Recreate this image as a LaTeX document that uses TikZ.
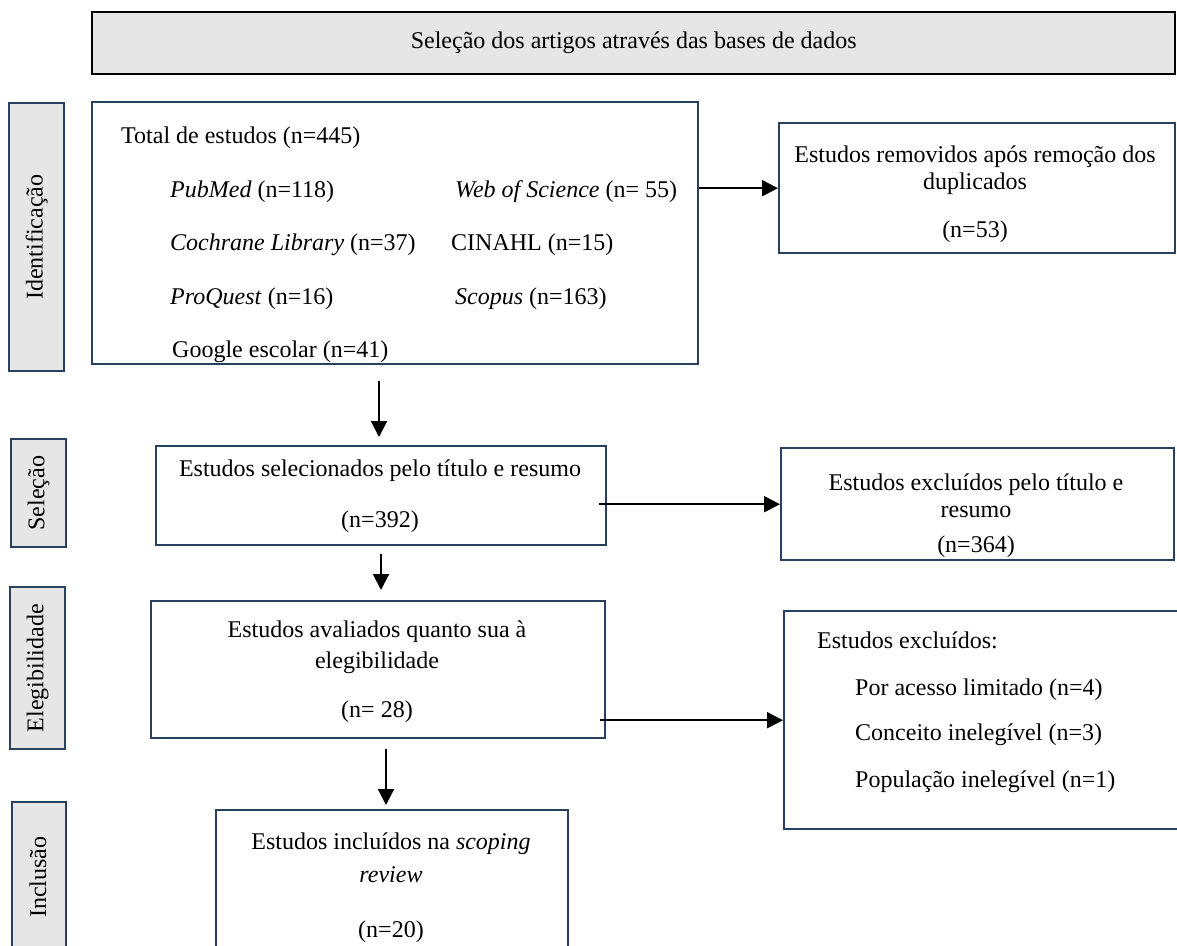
\documentclass[tikz,border=0pt]{standalone}
\usepackage{fontspec}
\setmainfont{Liberation Serif}
\usetikzlibrary{arrows.meta}
\definecolor{bordblue}{RGB}{41,65,94}
\definecolor{lgray}{RGB}{230,230,230}
\begin{document}
\begin{tikzpicture}[x=1pt,y=-1pt,
  box/.style={draw=bordblue, line width=2.4pt, fill=white, inner sep=0pt, anchor=north west},
  lab/.style={draw=bordblue, line width=2.4pt, fill=lgray, inner sep=0pt, anchor=north west},
  hdr/.style={draw=black, line width=2.4pt, fill=lgray, inner sep=0pt, anchor=north west, font=\fontsize{24}{28}\selectfont},
  txt/.style={inner sep=0pt, anchor=base, font=\fontsize{24}{28}\selectfont},
  txtw/.style={inner sep=0pt, anchor=base west, font=\fontsize{24}{28}\selectfont},
  rot/.style={inner sep=0pt, rotate=90, font=\fontsize{24}{28}\selectfont},
  arr/.style={line width=2pt, -{Triangle[length=16pt,width=16pt]}}]
\useasboundingbox (0,0) rectangle (1177,945);
\clip (0,0) rectangle (1177,945);
% header
\node[hdr, minimum width=1083, minimum height=62] (h) at (91,11) {Seleção dos artigos através das bases de dados};
% left labels
\node[lab, minimum width=55, minimum height=268] (l1) at (8,102) {};
\node[rot] (l1t) at (l1.center) {Identificação};
\node[lab, minimum width=55, minimum height=108] (l2) at (10,438) {};
\node[rot] (l2t) at (l2.center) {Seleção};
\node[lab, minimum width=55, minimum height=162] (l3) at (9,586) {};
\node[rot] (l3t) at (l3.center) {Elegibilidade};
\node[lab, minimum width=54, minimum height=200] (l4) at (11,801) {};
\node[rot] (l4t) at (38,877) {Inclusão};
% main boxes
\node[box, minimum width=606, minimum height=262] (b1) at (91,101) {};
\node[txtw] (t1) at (121,143) {Total de estudos (n=445)};
\node[txtw] (t2) at (170,197) {\textit{PubMed} (n=118)};
\node[txtw] (t3) at (455,197) {\textit{Web of Science} (n= 55)};
\node[txtw] (t4) at (170,250) {\textit{Cochrane Library} (n=37)};
\node[txtw] (t5) at (451,250) {CINAHL (n=15)};
\node[txtw] (t6) at (170,304) {\textit{ProQuest} (n=16)};
\node[txtw] (t7) at (455,304) {\textit{Scopus} (n=163)};
\node[txtw] (t8) at (172,357) {Google escolar (n=41)};

\node[box, minimum width=396, minimum height=130] (r1) at (778,122) {};
\node[txt] (r1a) at (975,162) {Estudos removidos após remoção dos};
\node[txt] (r1b) at (975,189) {duplicados};
\node[txt] (r1c) at (975,237) {(n=53)};

\node[box, minimum width=450, minimum height=99] (b2) at (155,445) {};
\node[txt] (b2a) at (380,476) {Estudos selecionados pelo título e resumo};
\node[txt] (b2b) at (380,527) {(n=392)};

\node[box, minimum width=393, minimum height=112] (r2) at (780,447) {};
\node[txt] (r2a) at (976,490) {Estudos excluídos pelo título e};
\node[txt] (r2b) at (976,517) {resumo};
\node[txt] (r2c) at (976,552) {(n=364)};

\node[box, minimum width=454, minimum height=137] (b3) at (150,600) {};
\node[txt] (b3a) at (377,637) {Estudos avaliados quanto sua à};
\node[txt] (b3b) at (377,668) {elegibilidade};
\node[txt] (b3c) at (377,717) {(n= 28)};

\node[box, minimum width=410, minimum height=218] (r3) at (783,610) {};
\node[txtw] (r3a) at (817,648) {Estudos excluídos:};
\node[txtw] (r3b) at (855,695) {Por acesso limitado (n=4)};
\node[txtw] (r3c) at (855,740) {Conceito inelegível (n=3)};
\node[txtw] (r3d) at (855,787) {População inelegível (n=1)};

\node[box, minimum width=352, minimum height=160] (b4) at (215,809) {};
\node[txt] (b4a) at (391,849) {Estudos incluídos na \textit{scoping}};
\node[txt] (b4b) at (391,882) {\textit{review}};
\node[txt] (b4c) at (391,937) {(n=20)};

% connectors
\coordinate (x1) at (379,0);
\coordinate (x2) at (381,0);
\coordinate (x3) at (386,0);
\draw[arr] (b1.east |- r1.west) -- (r1.west);
\draw[arr, shorten <=16pt, shorten >=8pt] (b1.south -| x1) -- (b2.north -| x1);
\draw[arr] ([xshift=-8pt]b2.east |- r2.west) -- (r2.west);
\draw[arr, shorten <=8pt, shorten >=10pt] (b2.south -| x2) -- (b3.north -| x2);
\draw[arr] ([xshift=-6pt]b3.east |- r3.west) -- (r3.west);
\draw[arr, shorten <=10pt, shorten >=4pt] (b3.south -| x3) -- (b4.north -| x3);
\end{tikzpicture}
\end{document}
